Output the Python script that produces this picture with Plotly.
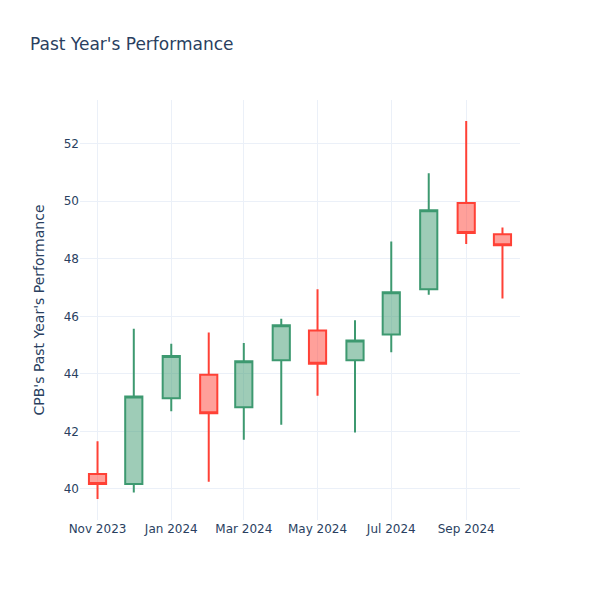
import plotly.graph_objects as go

dates = ["2023-11-01", "2023-12-01", "2024-01-01", "2024-02-01", "2024-03-01", "2024-04-01",
         "2024-05-01", "2024-06-01", "2024-07-01", "2024-08-01", "2024-09-01", "2024-10-01"]
open_ = [40.52, 40.17, 43.15, 43.97, 42.84, 44.47, 45.51, 44.47, 45.37, 46.94, 49.94, 48.85]
high = [41.66, 45.57, 45.05, 45.44, 45.07, 45.92, 46.94, 45.86, 48.60, 50.97, 52.79, 49.09]
low = [39.65, 39.88, 42.70, 40.25, 41.71, 42.23, 43.24, 41.96, 44.75, 46.75, 48.51, 46.62]
close = [40.17, 43.21, 44.62, 42.63, 44.44, 45.69, 44.35, 45.16, 46.84, 49.69, 48.90, 48.47]

fig = go.Figure(go.Candlestick(x=dates, open=open_, high=high, low=low, close=close))
fig.update_layout(
    template="plotly_white",
    font_family="DejaVu Sans",
    title="Past Year's Performance",
    yaxis_title="CPB's Past Year's Performance",
    xaxis_rangeslider_visible=False,
    showlegend=False,
    width=600, height=600,
)
fig.write_html("out.html", config={"displayModeBar": False},
               post_script="document.body.style.margin='0';")
